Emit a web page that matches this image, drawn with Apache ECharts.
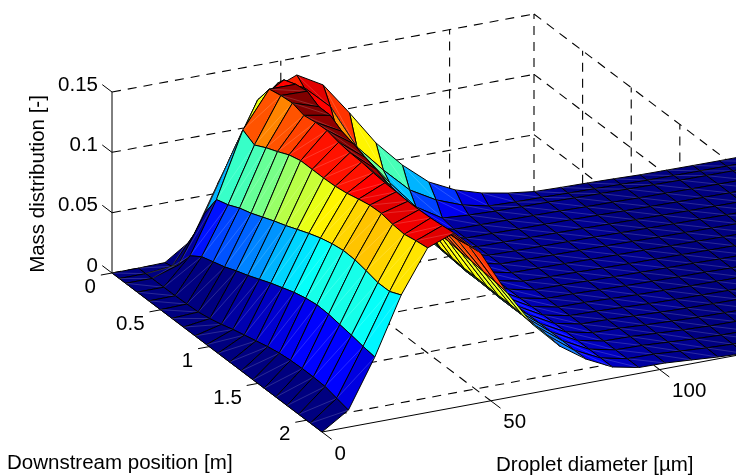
<!DOCTYPE html>
<html><head><meta charset="utf-8">
<style>html,body{margin:0;padding:0;background:#fff}#c{width:736px;height:476px}</style>
<script src="https://cdn.jsdelivr.net/npm/echarts@6/dist/echarts.min.js"></script>
</head><body><div id="c"></div>
<script>
// Mesh coordinates
var diameters = [0,7.82,15.64,23.46,31.28,39.1,46.92,54.74,62.56,70.38,78.2,86.02,93.84,101.66,109.48,117.3,125.12,132.94,140.76,148.58,156.4,164.22,172.04,179.86,187.68];
var positions = [0,0.075,0.14,0.26,0.379,0.498,0.616,0.735,0.854,0.973,1.09,1.21,1.33,1.45,1.565,1.685,1.80,1.92,2.04,2.16];
// Mass distribution per downstream position (one list per row, one value per diameter)
var row00=[0,0,.0005,.015,.0576,.098,.127,.1358,.1235,.0962,.0673,.045,.0269,.0163,.0097,.0056,.0028,.0022,.0018,.0012,.0005,.0003,.0001,0,0];
var row01=[0,0,.002,.03,.074,.115,.1376,.13,.11,.0727,.0495,.0289,.0166,.0083,.0035,.0028,.0025,.002,.0016,.0012,.0006,.0004,.0002,.0001,0];
var row02=[0,0,.007,.046,.09,.1317,.1443,.126,.095,.07,.043,.0188,.0055,.004,.0032,.0028,.0025,.002,.0016,.0012,.0008,.0005,.0003,.0002,.0001];
var row03=[0,0,.022,.0646,.1182,.148,.148,.121,.088,.052,.026,.009,.0035,.0033,.003,.0028,.0025,.002,.0017,.0013,.001,.0007,.0005,.0003,.0002];
var row04=[0,.0002,.0285,.0675,.113,.15,.1495,.112,.082,.049,.024,.0085,.0035,.0033,.003,.0028,.0026,.0022,.0018,.0014,.0011,.0008,.0006,.0004,.0003];
var row05=[0,.0006,.0315,.072,.118,.151,.144,.108,.078,.047,.023,.0085,.0036,.0034,.0031,.0029,.0026,.0022,.0018,.0014,.0011,.0008,.0006,.0004,.0003];
var row06=[0,.0012,.0345,.075,.122,.148,.144,.106,.075,.045,.0225,.0085,.0037,.0034,.0031,.0029,.0026,.0022,.0018,.0015,.0012,.0009,.0006,.0004,.0003];
var row07=[0,.003,.0385,.079,.1265,.1495,.138,.103,.072,.043,.022,.0085,.0038,.0035,.0032,.0029,.0026,.0022,.0018,.0015,.0012,.0009,.0006,.0004,.0003];
var row08=[0,.0055,.042,.083,.129,.15,.135,.101,.069,.041,.0215,.0085,.0038,.0036,.0032,.0028,.0025,.0022,.0018,.0015,.0012,.0009,.0006,.0004,.0003];
var row09=[0,.0085,.046,.0865,.129,.1475,.131,.099,.067,.04,.021,.0085,.004,.0037,.0033,.0028,.0024,.0021,.0018,.0014,.0011,.0008,.0006,.0004,.0002];
var row10=[0,.011,.05,.0905,.129,.146,.128,.098,.065,.039,.021,.0085,.004,.0038,.0033,.0027,.0023,.002,.0017,.0013,.001,.0008,.0005,.0003,.0002];
var row11=[0,.0135,.0535,.0945,.1295,.1455,.1235,.096,.062,.038,.0205,.0085,.0042,.004,.0033,.0026,.0022,.0019,.0016,.0012,.001,.0007,.0005,.0003,.0002];
var row12=[0,.016,.057,.098,.131,.144,.122,.095,.061,.038,.0205,.0088,.0044,.0041,.0033,.0025,.002,.0017,.0014,.0011,.0008,.0006,.0004,.0002,.0001];
var row13=[0,.018,.0595,.1005,.1335,.143,.121,.094,.06,.0375,.0205,.009,.0046,.0042,.0033,.0024,.0018,.0015,.0012,.0009,.0007,.0005,.0003,.0002,.0001];
var row14=[0,.019,.061,.102,.1355,.1425,.12,.093,.06,.037,.0205,.0092,.0047,.0043,.0033,.0023,.0016,.0013,.001,.0007,.0005,.0004,.0002,.0001,.0001];
var row15=[0,.0195,.0605,.1015,.136,.142,.12,.092,.0595,.037,.0205,.0094,.0048,.0044,.0032,.0022,.0014,.0011,.0008,.0006,.0004,.0003,.0002,.0001,0];
var row16=[0,.0195,.059,.0995,.134,.142,.12,.091,.059,.037,.0205,.0095,.0049,.0045,.0032,.002,.0012,.0009,.0007,.0005,.0003,.0002,.0001,.0001,0];
var row17=[0,.019,.0575,.097,.133,.1425,.121,.09,.059,.0365,.0205,.0095,.0049,.0045,.0032,.0019,.001,.0007,.0005,.0004,.0003,.0002,.0001,0,0];
var row18=[0,.0165,.0555,.097,.135,.1435,.123,.089,.058,.036,.02,.0095,.0049,.0046,.0031,.0017,.0008,.0006,.0004,.0003,.0002,.0001,.0001,0,0];
var row19=[0,.0141,.054,.1014,.1364,.1448,.1244,.0875,.0564,.0348,.02,.0094,.0049,.0046,.0031,.0015,.0004,.0003,.0002,.0002,.0001,.0001,0,0,0];
var massRows=[row00,row01,row02,row03,row04,row05,row06,row07,row08,row09,row10,row11,row12,row13,row14,row15,row16,row17,row18,row19];
// Axis ticks
var massTicks=[0,0.05,0.1,0.15], massLabels=['0','0.05','0.1','0.15'];
var positionTicks=[0,0.5,1,1.5,2], positionLabels=['0','0.5','1','1.5','2'];
var diameterTicks=[0,50,100], diameterLabels=['0','50','100'];
var dMax=125, zMax=2.16, mMax=0.15, colorMax=0.151;

// Fixed 3-D view: pixels per data unit along each axis of the box
var view={o:[112,273],d:[422/dMax,-78/dMax],z:[210/zMax,159/zMax],m:[0,-181/mMax]};
function project(d,z,m){return [view.o[0]+view.d[0]*d+view.z[0]*z, view.o[1]+view.d[1]*d+view.z[1]*z+view.m[1]*m];}
function jet(x){
  function c(v){return Math.round(255*Math.max(0,Math.min(1,v)));}
  x=Math.floor(Math.max(0,Math.min(0.9999,x))*64)/63;
  return 'rgb('+c(Math.min(4*x-1.5,-4*x+4.5))+','+c(Math.min(4*x-0.5,-4*x+3.5))+','+c(Math.min(4*x+0.5,-4*x+2.5))+')';
}
// Painter's order for a height field seen from low diameter, high position
var cells=[];
for(var j=0;j<positions.length-1;j++){
  for(var n=diameters.length-2;n>=0;n--){
    var r0=massRows[j],r1=massRows[j+1];
    cells.push([diameters[n],diameters[n+1],positions[j],positions[j+1],r0[n],r0[n+1],r1[n],r1[n+1]]);
  }
}
var gridSegs=[],axisSegs=[];
function seg(list,a,b){list.push(a.concat(b));}
massTicks.forEach(function(m){
  if(m>0) seg(gridSegs,[0,0,m],[dMax,0,m]);
  if(m>0) seg(gridSegs,[dMax,0,m],[dMax,zMax,m]);
});
diameterTicks.concat([dMax]).forEach(function(d){
  if(d>0){seg(gridSegs,[d,0,0],[d,0,mMax]);seg(gridSegs,[d,0,0],[d,zMax,0]);}
});
positionTicks.forEach(function(z){
  if(z>0){seg(gridSegs,[0,z,0],[dMax,z,0]);seg(gridSegs,[dMax,z,0],[dMax,z,mMax]);}
});
seg(gridSegs,[0,0,0],[dMax,0,0]);
seg(axisSegs,[0,0,0],[0,0,mMax]);
seg(axisSegs,[0,0,0],[0,zMax,0]);
seg(axisSegs,[0,zMax,0],[dMax,zMax,0]);
massTicks.forEach(function(m){seg(axisSegs,[0,0,m],[0,-0.1,m]);});
positionTicks.forEach(function(z){seg(axisSegs,[0,z,0],[-3.3,z,0]);});
diameterTicks.forEach(function(d){seg(axisSegs,[d,zMax,0],[d,zMax+0.1,0]);});

var FONT='20.5px "Liberation Sans", Arial, sans-serif';
var texts=[];
massTicks.forEach(function(m,i){var p=project(0,0,m);texts.push([massLabels[i],p[0]-14,p[1]-7,'right',0]);});
positionTicks.forEach(function(z,i){var p=project(0,z,0);texts.push([positionLabels[i],p[0]-16,p[1]+14.5,'right',0]);});
diameterTicks.forEach(function(d,i){var p=project(d,zMax,0);texts.push([diameterLabels[i],p[0]+12.5,p[1]+22,'left',0]);});
var titles=[['Downstream position [m]',7,463,'left',0],['Droplet diameter [\u00b5m]',496,465,'left',0],['Mass distribution [-]',38,184,'center',1]];
texts=texts.concat(titles);

function lineRenderer(style){
  return function(params,api){
    var a=project(api.value(0),api.value(1),api.value(2)),b=project(api.value(3),api.value(4),api.value(5));
    var p=api.coord(a),q=api.coord(b);
    return {type:'line',shape:{x1:p[0],y1:p[1],x2:q[0],y2:q[1]},style:style,silent:true};
  };
}
function surfaceRenderer(params,api){
  var d0=api.value(0),d1=api.value(1),z0=api.value(2),z1=api.value(3);
  var a=api.coord(project(d0,z0,api.value(4))),b=api.coord(project(d1,z0,api.value(5)));
  var c=api.coord(project(d1,z1,api.value(7))),e=api.coord(project(d0,z1,api.value(6)));
  var col=jet(api.value(4)/colorMax);
  return {type:'group',silent:true,children:[
    {type:'polygon',shape:{points:[a,b,c,e]},style:{fill:col,stroke:'#000',lineWidth:1,lineJoin:'round'}},
    {type:'line',shape:{x1:a[0],y1:a[1],x2:c[0],y2:c[1]},style:{stroke:'rgba(255,255,255,0.28)',lineWidth:0.6}}
  ]};
}
function textRenderer(params,api){
  var i=params.dataIndex,t=texts[i],p=api.coord([t[1],t[2]]);
  return {type:'text',x:p[0],y:p[1],rotation:t[4]?Math.PI/2:0,silent:true,
    style:{text:t[0],font:FONT,fill:'#000',align:t[3],verticalAlign:'middle'}};
}
var chart=echarts.init(document.getElementById('c'),null,{renderer:'canvas'});
chart.setOption({
  animation:false,backgroundColor:'#fff',
  grid:{left:0,right:0,top:0,bottom:0},
  xAxis:{type:'value',min:0,max:736,show:false},
  yAxis:{type:'value',min:0,max:476,inverse:true,show:false},
  tooltip:{show:false},
  series:[
    {type:'custom',coordinateSystem:'cartesian2d',clip:true,silent:true,z:1,data:gridSegs,
      renderItem:lineRenderer({stroke:'#000',lineWidth:1.1,lineDash:[9,7]})},
    {type:'custom',coordinateSystem:'cartesian2d',clip:true,silent:true,z:2,data:axisSegs,
      renderItem:lineRenderer({stroke:'#000',lineWidth:1})},
    {type:'custom',coordinateSystem:'cartesian2d',clip:true,silent:true,z:3,data:cells,progressive:0,
      renderItem:surfaceRenderer},
    {type:'custom',coordinateSystem:'cartesian2d',clip:false,silent:true,z:4,
      data:texts.map(function(t){return [t[1],t[2]];}),renderItem:textRenderer}
  ]
});
</script></body></html>
